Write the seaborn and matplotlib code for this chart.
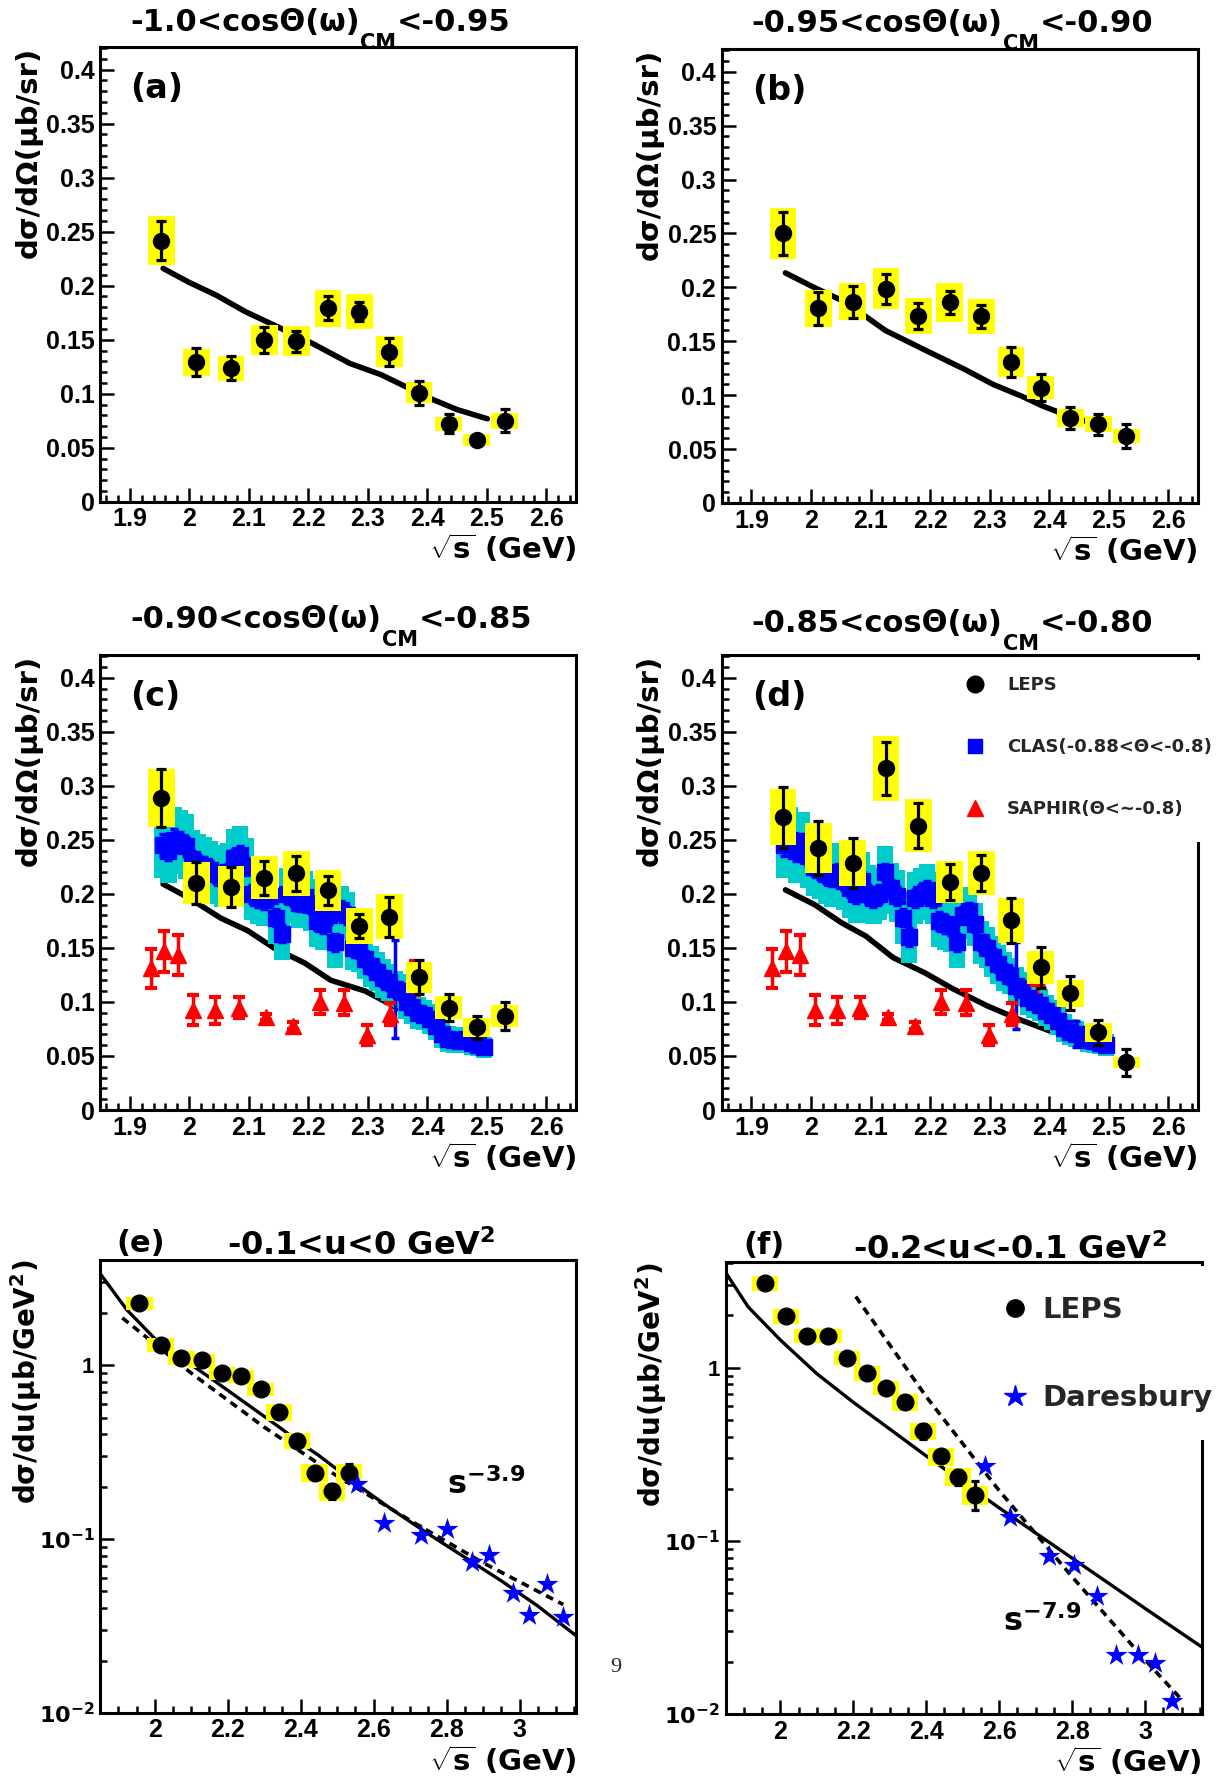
import matplotlib
matplotlib.use('Agg')
import matplotlib.pyplot as plt
from matplotlib.lines import Line2D
from matplotlib.patches import Rectangle
from matplotlib.ticker import (MultipleLocator, FuncFormatter, LogLocator,
                               NullFormatter, FixedLocator, FixedFormatter)
import seaborn as sns

# ---------------- values ----------------
# LEPS bins in sqrt(s) (GeV), panels (a)-(d)
leps_x = [1.953, 2.012, 2.070, 2.126, 2.180, 2.233, 2.286, 2.336, 2.386, 2.436, 2.483, 2.530]

a_y = [0.2416, 0.129, 0.1235, 0.1495, 0.1485, 0.179, 0.176, 0.139, 0.101, 0.0724, 0.057, 0.075]
a_stat = [0.018, 0.013, 0.011, 0.012, 0.010, 0.011, 0.009, 0.013, 0.011, 0.009, 0.003, 0.0105]
a_sys = [0.0227, 0.0125, 0.0115, 0.014, 0.014, 0.017, 0.016, 0.014, 0.010, 0.0065, 0.0053, 0.0073]

b_y = [0.250, 0.1805, 0.1866, 0.1986, 0.1736, 0.186, 0.173, 0.131, 0.107, 0.079, 0.073, 0.062]
b_stat = [0.0197, 0.0154, 0.015, 0.014, 0.012, 0.011, 0.0105, 0.0137, 0.0125, 0.010, 0.0096, 0.011]
b_sys = [0.024, 0.017, 0.017, 0.019, 0.0166, 0.018, 0.0166, 0.0137, 0.011, 0.0084, 0.0075, 0.0065]

c_y = [0.2887, 0.210, 0.2067, 0.2148, 0.219, 0.2032, 0.1704, 0.179, 0.123, 0.0947, 0.0764, 0.087]
c_stat = [0.0266, 0.0194, 0.0185, 0.016, 0.016, 0.0137, 0.0114, 0.0185, 0.016, 0.0125, 0.011, 0.013]
c_sys = [0.027, 0.0197, 0.019, 0.020, 0.021, 0.019, 0.0164, 0.021, 0.0144, 0.0106, 0.0085, 0.010]

d_y = [0.2708, 0.2423, 0.2286, 0.316, 0.263, 0.211, 0.2195, 0.1755, 0.132, 0.108, 0.0718, 0.044]
d_stat = [0.0285, 0.025, 0.0234, 0.0246, 0.021, 0.0167, 0.0164, 0.021, 0.0188, 0.0158, 0.0118, 0.0127]
d_sys = [0.026, 0.023, 0.021, 0.030, 0.0246, 0.0197, 0.0206, 0.021, 0.0153, 0.0123, 0.0086, 0.005]

# model curves (solid lines)
a_th_x = [1.956, 2.0, 2.046, 2.094, 2.152, 2.206, 2.27, 2.322, 2.36, 2.405, 2.45, 2.501]
a_th_y = [0.216, 0.203, 0.191, 0.176, 0.161, 0.1468, 0.128, 0.1177, 0.1075, 0.0956, 0.0853, 0.0768]
b_th_x = [1.957, 2.006, 2.059, 2.125, 2.191, 2.257, 2.306, 2.356, 2.389, 2.422, 2.461]
b_th_y = [0.2134, 0.1997, 0.186, 0.160, 0.142, 0.1243, 0.110, 0.0986, 0.090, 0.083, 0.076]
c_th_x = [1.956, 2.0, 2.053, 2.098, 2.142, 2.194, 2.238, 2.296, 2.347, 2.400]
c_th_y = [0.209, 0.196, 0.1775, 0.166, 0.150, 0.136, 0.120, 0.110, 0.095, 0.081]
d_th_x = [1.957, 2.006, 2.052, 2.092, 2.138, 2.191, 2.237, 2.296, 2.349, 2.402]
d_th_y = [0.2037, 0.190, 0.173, 0.161, 0.141, 0.127, 0.1126, 0.0964, 0.084, 0.073]

# SAPHIR (same in c and d)
sap_x = [1.935, 1.958, 1.981, 2.006, 2.044, 2.083, 2.129, 2.174, 2.219, 2.260, 2.299, 2.338, 2.380]
sap_y = [0.131, 0.1468, 0.1433, 0.0922, 0.0922, 0.0947, 0.0859, 0.078, 0.100, 0.0993, 0.069, 0.0887, 0.122]
sap_err = [0.0183, 0.019, 0.0187, 0.014, 0.0123, 0.010, 0.003, 0.003, 0.011, 0.0118, 0.0093, 0.010, 0.016]

# CLAS
clas_x = [1.955, 1.965, 1.975, 1.985, 1.995, 2.005, 2.015, 2.025, 2.035, 2.045,
          2.055, 2.065, 2.075, 2.085, 2.095, 2.105, 2.115, 2.125, 2.135, 2.145,
          2.155, 2.165, 2.175, 2.185, 2.195, 2.205, 2.215, 2.225, 2.235, 2.245,
          2.255, 2.265, 2.275, 2.285, 2.295, 2.305, 2.315, 2.325, 2.335, 2.345,
          2.355, 2.365, 2.375, 2.385, 2.395, 2.405, 2.415, 2.425, 2.435, 2.445,
          2.455, 2.465, 2.475, 2.485, 2.495]
clas_c_y = [0.245, 0.240, 0.250, 0.248, 0.244, 0.232, 0.228, 0.226, 0.222, 0.218,
            0.215, 0.220, 0.233, 0.236, 0.225, 0.200, 0.196, 0.194, 0.198, 0.178,
            0.163, 0.200, 0.197, 0.192, 0.197, 0.190, 0.175, 0.172, 0.180, 0.155,
            0.185, 0.180, 0.150, 0.148, 0.140, 0.133, 0.128, 0.122, 0.118, 0.112,
            0.110, 0.100, 0.095, 0.090, 0.088, 0.084, 0.078, 0.070, 0.066, 0.065,
            0.064, 0.066, 0.062, 0.060, 0.058]
clas_d_y = [0.245, 0.250, 0.240, 0.246, 0.235, 0.225, 0.222, 0.218, 0.215, 0.220,
            0.212, 0.205, 0.200, 0.212, 0.200, 0.196, 0.200, 0.220, 0.205, 0.198,
            0.178, 0.160, 0.196, 0.200, 0.204, 0.196, 0.175, 0.172, 0.170, 0.155,
            0.180, 0.184, 0.172, 0.155, 0.150, 0.142, 0.135, 0.128, 0.124, 0.115,
            0.112, 0.104, 0.100, 0.097, 0.092, 0.088, 0.082, 0.076, 0.072, 0.070,
            0.068, 0.065, 0.064, 0.062, 0.060]
clas_c_stat = [0.010, 0.009, 0.010, 0.009, 0.009, 0.008, 0.008, 0.008, 0.008, 0.008,
               0.008, 0.008, 0.008, 0.008, 0.008, 0.008, 0.008, 0.008, 0.008, 0.008,
               0.008, 0.008, 0.008, 0.008, 0.008, 0.008, 0.008, 0.008, 0.008, 0.008,
               0.008, 0.008, 0.007, 0.007, 0.007, 0.007, 0.007, 0.007, 0.007, 0.045,
               0.007, 0.006, 0.006, 0.006, 0.006, 0.006, 0.006, 0.005, 0.005, 0.005,
               0.005, 0.005, 0.005, 0.005, 0.005]
clas_d_stat = [0.010, 0.009, 0.010, 0.009, 0.009, 0.008, 0.008, 0.008, 0.008, 0.008,
               0.008, 0.008, 0.008, 0.008, 0.008, 0.008, 0.008, 0.008, 0.008, 0.008,
               0.008, 0.008, 0.008, 0.008, 0.008, 0.008, 0.008, 0.008, 0.008, 0.008,
               0.008, 0.008, 0.007, 0.007, 0.007, 0.007, 0.007, 0.007, 0.007, 0.040,
               0.007, 0.006, 0.006, 0.006, 0.006, 0.006, 0.006, 0.005, 0.005, 0.012,
               0.005, 0.005, 0.005, 0.005, 0.005]
clas_sys = [0.030, 0.030, 0.030, 0.030, 0.030, 0.027, 0.027, 0.027, 0.027, 0.027,
            0.027, 0.027, 0.027, 0.027, 0.027, 0.024, 0.024, 0.024, 0.024, 0.024,
            0.024, 0.024, 0.024, 0.024, 0.024, 0.024, 0.024, 0.024, 0.024, 0.024,
            0.022, 0.022, 0.020, 0.020, 0.019, 0.019, 0.018, 0.018, 0.017, 0.017,
            0.016, 0.016, 0.015, 0.015, 0.014, 0.014, 0.013, 0.013, 0.012, 0.012,
            0.011, 0.011, 0.011, 0.010, 0.010]

# panels (e),(f): d sigma/du
e_x = [1.958, 2.016, 2.073, 2.129, 2.184, 2.236, 2.290, 2.341, 2.390, 2.438, 2.486, 2.533]
e_y = [2.27, 1.307, 1.102, 1.065, 0.898, 0.864, 0.729, 0.536, 0.368, 0.241, 0.188, 0.241]
e_stat = [0.03, 0.03, 0.03, 0.03, 0.03, 0.03, 0.03, 0.04, 0.05, 0.08, 0.10, 0.12]
e_sys = [0.09, 0.09, 0.095, 0.09, 0.09, 0.09, 0.09, 0.11, 0.11, 0.115, 0.12, 0.12]
f_x = [1.958, 2.016, 2.073, 2.132, 2.183, 2.237, 2.290, 2.341, 2.391, 2.440, 2.488, 2.534]
f_y = [3.07, 1.98, 1.53, 1.53, 1.14, 0.93, 0.764, 0.635, 0.43, 0.307, 0.234, 0.185]
f_stat = [0.03, 0.03, 0.03, 0.03, 0.03, 0.03, 0.03, 0.04, 0.10, 0.06, 0.10, 0.19]
f_sys = [0.095, 0.095, 0.095, 0.095, 0.095, 0.095, 0.095, 0.115, 0.115, 0.12, 0.12, 0.125]

dar_e_x = [2.554, 2.629, 2.731, 2.801, 2.869, 2.916, 2.982, 3.026, 3.075, 3.120]
dar_e_y = [0.208, 0.124, 0.105, 0.114, 0.0738, 0.0813, 0.0492, 0.0367, 0.055, 0.0358]
dar_f_x = [2.560, 2.630, 2.737, 2.804, 2.869, 2.920, 2.982, 3.027, 3.075]
dar_f_y = [0.270, 0.138, 0.0817, 0.0726, 0.0477, 0.0219, 0.0219, 0.0198, 0.0119]

e_th_x = [1.853, 1.924, 2.018, 2.073, 2.15, 2.25, 2.35, 2.39, 2.45, 2.55, 2.65, 2.75, 2.85, 2.95, 3.05, 3.155]
e_th_y = [3.30, 2.075, 1.30, 1.099, 0.851, 0.603, 0.427, 0.368, 0.302, 0.209, 0.148, 0.107, 0.0785, 0.0575, 0.0412, 0.0278]
e_pow_x = [1.911, 2.1, 2.3, 2.5, 2.7, 2.9, 3.12]
e_pow_y = [1.87, 0.90, 0.44, 0.23, 0.128, 0.073, 0.042]
f_th_x = [1.853, 1.912, 2.0, 2.1, 2.2, 2.3, 2.4, 2.5, 2.6, 2.7, 2.8, 2.9, 3.0, 3.155]
f_th_y = [3.47, 2.24, 1.445, 0.923, 0.631, 0.442, 0.309, 0.219, 0.155, 0.111, 0.0794, 0.0569, 0.0407, 0.0244]
f_pow_x = [2.207, 2.4, 2.6, 2.8, 3.0, 3.102]
f_pow_y = [2.57, 0.68, 0.195, 0.062, 0.0205, 0.012]

# ---------------- style ----------------
sns.set_style('ticks')
plt.rcParams['font.family'] = ['Liberation Sans', 'DejaVu Sans']
plt.rcParams['font.weight'] = 'bold'
plt.rcParams['mathtext.fontset'] = 'custom'
for k in ('rm', 'it', 'bf', 'sf'):
    plt.rcParams['mathtext.' + k] = 'DejaVu Sans:bold'
plt.rcParams['mathtext.default'] = 'rm'
plt.rcParams['axes.unicode_minus'] = False

LAB = dict(family='DejaVu Sans', fontweight='bold', color='black')
YELLOW, CYAN = '#ffff00', '#00cccc'

fig = plt.figure(figsize=(12.26, 17.78), dpi=100)
rects = {
    'a': [0.0816, 0.7178, 0.3883, 0.2558],
    'b': [0.5887, 0.7171, 0.3883, 0.2553],
    'c': [0.0816, 0.3757, 0.3883, 0.2559],
    'd': [0.5887, 0.3757, 0.3883, 0.2559],
    'e': [0.0816, 0.0366, 0.3883, 0.2550],
    'f': [0.5918, 0.0360, 0.3883, 0.2540],
}
axs = {k: fig.add_axes(r) for k, r in rects.items()}


def num_fmt(v, pos):
    if abs(v) < 1e-9:
        return '0'
    return f'{v:.2f}'.rstrip('0').rstrip('.')


def frame(ax):
    for sp in ax.spines.values():
        sp.set_visible(True)
        sp.set_linewidth(2.2)
        sp.set_color('black')
    ax.grid(False)
    ax.tick_params(which='both', direction='in', top=False, right=False,
                   width=1.8, color='black', labelcolor='black', labelsize=18, pad=4)
    ax.tick_params(which='major', length=10)
    ax.tick_params(which='minor', length=5)


def setup_lin(ax):
    frame(ax)
    ax.set_xlim(1.85, 2.65)
    ax.set_ylim(0, 0.421)
    ax.xaxis.set_major_locator(MultipleLocator(0.1))
    ax.xaxis.set_minor_locator(MultipleLocator(0.02))
    ax.yaxis.set_major_locator(MultipleLocator(0.05))
    ax.yaxis.set_minor_locator(MultipleLocator(0.01))
    ax.xaxis.set_major_formatter(FuncFormatter(num_fmt))
    ax.yaxis.set_major_formatter(FuncFormatter(num_fmt))
    ax.set_ylabel('dσ/dΩ(μb/sr)', loc='top', fontsize=21, **LAB)
    ax.yaxis.set_label_coords(-0.121, 1.0)
    ax.set_xlabel(r'$\sqrt{s}$ (GeV)', loc='right', fontsize=21, labelpad=1, **LAB)


def setup_log(ax):
    frame(ax)
    ax.set_yscale('log')
    ax.set_xlim(1.85, 3.155)
    ax.set_ylim(0.01, 4.05)
    ax.xaxis.set_major_locator(MultipleLocator(0.2))
    ax.xaxis.set_minor_locator(MultipleLocator(0.05))
    ax.xaxis.set_major_formatter(FuncFormatter(num_fmt))
    ax.yaxis.set_major_locator(FixedLocator([0.01, 0.1, 1]))
    ax.yaxis.set_major_formatter(FixedFormatter([r'$10^{-2}$', r'$10^{-1}$', '1']))
    ax.yaxis.set_minor_locator(LogLocator(base=10, subs=range(2, 10)))
    ax.yaxis.set_minor_formatter(NullFormatter())
    ax.tick_params(axis='y', which='major', labelsize=16)
    ax.set_ylabel(r'dσ/du(μb/Ge$V^{2}$)', loc='top', fontsize=20, **LAB)
    ax.yaxis.set_label_coords(-0.118, 1.0)
    ax.set_xlabel(r'$\sqrt{s}$ (GeV)', loc='right', fontsize=21, labelpad=1, **LAB)


def draw_leps(ax, x, y, stat, sys):
    ax.bar(x, [2 * s for s in sys], bottom=[v - s for v, s in zip(y, sys)],
           width=0.045, color=YELLOW, linewidth=0, zorder=3.4)
    ax.errorbar(x, y, yerr=stat, fmt='o', ms=11.5, color='black', elinewidth=2.3,
                capsize=3.5, capthick=2.3, zorder=3.5)


def draw_leps_log(ax, x, y, stat, sys):
    lo = [v * (1 - s) for v, s in zip(y, sys)]
    hi = [v * (1 + s) for v, s in zip(y, sys)]
    ax.bar(x, [h - l for h, l in zip(hi, lo)], bottom=lo, width=0.072,
           color=YELLOW, linewidth=0, zorder=3.4)
    ax.errorbar(x, y, yerr=[v * s for v, s in zip(y, stat)], fmt='o', ms=12,
                color='black', elinewidth=2.3, capsize=3, capthick=2.3, zorder=3.5)


def draw_clas(ax, y, stat):
    ax.bar(clas_x, [2 * s for s in clas_sys], bottom=[v - s for v, s in zip(y, clas_sys)],
           width=0.027, color=CYAN, linewidth=0, zorder=3.1)
    ax.errorbar(clas_x, y, yerr=stat, fmt='s', ms=11, color='blue', elinewidth=2.5,
                capsize=3, capthick=2.5, zorder=3.2)


def draw_saphir(ax):
    ax.errorbar(sap_x, sap_y, yerr=sap_err, fmt='^', ms=12, color='red', elinewidth=2.5,
                capsize=4, capthick=3, zorder=3.3)


def curve(ax, x, y, lw=4):
    sns.lineplot(x=x, y=y, ax=ax, color='black', linewidth=lw, sort=False,
                 errorbar=None, legend=False, zorder=3)


def cm_title(ax, x, y, left, right):
    t1 = ax.text(x, y, left, transform=fig.transFigure, fontsize=22, ha='left',
                 va='baseline', **LAB)
    t2 = ax.annotate('CM', xy=(1, 0), xycoords=t1, xytext=(0.5, -11.3),
                     textcoords='offset points', fontsize=15, ha='left', va='bottom',
                     annotation_clip=False, **LAB)
    ax.annotate(right, xy=(1, 0), xycoords=t2, xytext=(0.5, 11.3),
                textcoords='offset points', fontsize=22, ha='left', va='bottom',
                annotation_clip=False, **LAB)


def panel_tag(ax, tag):
    ax.text(0.063, 0.945, tag, transform=ax.transAxes, fontsize=24, ha='left',
            va='top', zorder=6, **LAB)


# ---------------- (a) ----------------
ax = axs['a']
setup_lin(ax)
curve(ax, a_th_x, a_th_y)
draw_leps(ax, leps_x, a_y, a_stat, a_sys)
panel_tag(ax, '(a)')
cm_title(ax, 130 / 1226, 1 - 31 / 1778, '-1.0<cosΘ(ω)', '<-0.95')

# ---------------- (b) ----------------
ax = axs['b']
setup_lin(ax)
curve(ax, b_th_x, b_th_y)
draw_leps(ax, leps_x, b_y, b_stat, b_sys)
panel_tag(ax, '(b)')
cm_title(ax, 751 / 1226, 1 - 32 / 1778, '-0.95<cosΘ(ω)', '<-0.90')

# ---------------- (c) ----------------
ax = axs['c']
setup_lin(ax)
curve(ax, c_th_x, c_th_y)
draw_clas(ax, clas_c_y, clas_c_stat)
draw_saphir(ax)
draw_leps(ax, leps_x, c_y, c_stat, c_sys)
panel_tag(ax, '(c)')
cm_title(ax, 130 / 1226, 1 - 628 / 1778, '-0.90<cosΘ(ω)', '<-0.85')

# ---------------- (d) ----------------
ax = axs['d']
setup_lin(ax)
curve(ax, d_th_x, d_th_y)
draw_clas(ax, clas_d_y, clas_d_stat)
draw_saphir(ax)
draw_leps(ax, leps_x, d_y, d_stat, d_sys)
panel_tag(ax, '(d)')
cm_title(ax, 751 / 1226, 1 - 632 / 1778, '-0.85<cosΘ(ω)', '<-0.80')
ax.add_patch(Rectangle((0.50, 0.589), 0.56, 0.401, transform=ax.transAxes,
                       facecolor='white', edgecolor='none', clip_on=False, zorder=2.6))
handles = [Line2D([], [], ls='none', marker='o', color='black', ms=12),
           Line2D([], [], ls='none', marker='s', color='blue', ms=10),
           Line2D([], [], ls='none', marker='^', color='red', ms=12)]
leg = ax.legend(handles, ['LEPS', 'CLAS(-0.88<Θ<-0.8)', 'SAPHIR(Θ<~-0.8)'],
                loc='upper left', bbox_to_anchor=(0.514, 0.954), frameon=False,
                handlelength=1.0, handletextpad=1.25, labelspacing=2.45,
                borderpad=0, borderaxespad=0,
                prop=dict(family='DejaVu Sans', weight='bold', size=13))
leg.set_zorder(6)

# ---------------- (e) ----------------
ax = axs['e']
setup_log(ax)
curve(ax, e_th_x, e_th_y, lw=2.4)
ax.plot(e_pow_x, e_pow_y, color='black', lw=2.6, dashes=(2.2, 1.6), zorder=3)
draw_leps_log(ax, e_x, e_y, e_stat, e_sys)
sns.scatterplot(x=dar_e_x, y=dar_e_y, ax=ax, marker='*', s=280, color='blue',
                edgecolor='blue', linewidth=0, zorder=4, legend=False)
ax.text(2.80, 0.182, r'$s^{-3.9}$', fontsize=23, ha='left', va='baseline', **LAB)
fig.text(116 / 1226, 1 - 1252 / 1778, '(e)', fontsize=22, ha='left', va='baseline', **LAB)
fig.text(227 / 1226, 1 - 1255 / 1778, r'-0.1<u<0 Ge$V^{2}$', fontsize=23,
         ha='left', va='baseline', **LAB)

# ---------------- (f) ----------------
ax = axs['f']
setup_log(ax)
curve(ax, f_th_x, f_th_y, lw=2.4)
ax.plot(f_pow_x, f_pow_y, color='black', lw=2.6, dashes=(2.2, 1.6), zorder=3)
draw_leps_log(ax, f_x, f_y, f_stat, f_sys)
sns.scatterplot(x=dar_f_x, y=dar_f_y, ax=ax, marker='*', s=280, color='blue',
                edgecolor='blue', linewidth=0, zorder=4, legend=False)
ax.text(2.61, 0.030, r'$s^{-7.9}$', fontsize=23, ha='left', va='baseline', **LAB)
fig.text(743 / 1226, 1 - 1254 / 1778, '(f)', fontsize=22, ha='left', va='baseline', **LAB)
fig.text(853 / 1226, 1 - 1259 / 1778, r'-0.2<u<-0.1 Ge$V^{2}$', fontsize=23,
         ha='left', va='baseline', **LAB)
ax.add_patch(Rectangle((0.55, 0.607), 0.5, 0.385, transform=ax.transAxes,
                       facecolor='white', edgecolor='none', clip_on=False, zorder=2.6))
handles = [Line2D([], [], ls='none', marker='o', color='black', ms=12.5),
           Line2D([], [], ls='none', marker='*', color='blue', ms=16)]
leg = ax.legend(handles, ['LEPS', 'Daresbury'], loc='upper left',
                bbox_to_anchor=(0.577, 0.925), frameon=False, handlelength=1.0,
                handletextpad=0.46, labelspacing=2.05, borderpad=0, borderaxespad=0,
                prop=dict(family='DejaVu Sans', weight='bold', size=21))
leg.set_zorder(6)

# page number
fig.text(616 / 1226, 1 - 1667 / 1778, '9', fontsize=16, family='Liberation Serif',
         fontweight='normal', ha='center', va='center')

fig.savefig('out.png', dpi=100)
